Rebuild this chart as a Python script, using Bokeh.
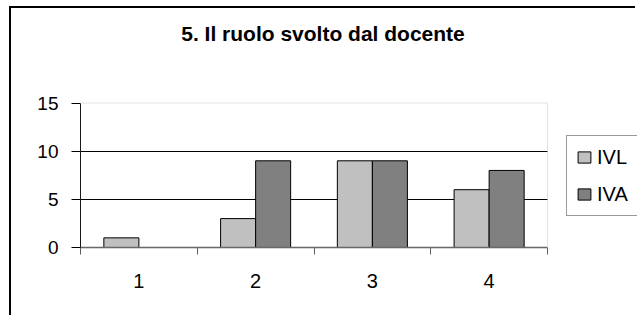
from bokeh.plotting import figure
from bokeh.models import (FixedTicker, Legend, LegendItem, ColumnDataSource, Range1d,
                          BoxAnnotation, LinearAxis, Label)
from bokeh.transform import dodge
from bokeh.embed import file_html
from bokeh.resources import INLINE

# ---- data ----
categories = ["1", "2", "3", "4"]
series_names = ["IVL", "IVA"]
ivl = [1, 3, 9, 6]
iva = [0, 9, 9, 8]
y_ticks = [0, 5, 10, 15]
title_text = "5. Il ruolo svolto dal docente"

FONT = "Liberation Sans"

n = len(categories)
centers = [i + 1 for i in range(n)]
bounds = [i + 0.5 for i in range(n + 1)]
x_lo, x_hi = 0.5, n + 0.5
y_lo, y_hi = y_ticks[0], y_ticks[-1]

# layout (pixels)
W, H = 626, 309
LEFT, BOTTOM = 69, 70
PLOT_W, PLOT_H = 467, 144.5       # size of the plotting area proper
FRAME_W = W - LEFT                # frame runs on to the right edge (legend zone)
FRAME_H = H - BOTTOM              # and up to the top edge (title zone)
x_view_hi = x_lo + n * FRAME_W / PLOT_W
y_view_hi = y_hi * FRAME_H / PLOT_H

p = figure(width=W, height=H, output_backend="svg", toolbar_location=None,
           x_range=Range1d(x_lo, x_view_hi), y_range=Range1d(y_lo, y_view_hi),
           x_axis_type=None,
           min_border_left=LEFT, min_border_right=0, min_border_top=0,
           min_border_bottom=BOTTOM,
           background_fill_color="#ffffff", border_fill_color="#ffffff",
           styles={"margin-left": "9px", "margin-top": "6px",
                   "border-left": "2px solid #000000", "border-top": "2px solid #000000"})
p.outline_line_color = None

src = ColumnDataSource(dict(x=centers, ivl=ivl, iva=iva))
r1 = p.vbar(x=dodge("x", -0.15), top="ivl", bottom=0, width=0.3, source=src,
            fill_color="#C0C0C0", line_color="#000000", line_width=1)
r2 = p.vbar(x=dodge("x", 0.15), top="iva", bottom=0, width=0.3, source=src,
            fill_color="#808080", line_color="#000000", line_width=1)

# x axis: labels at category centres, tick marks between categories
xaxis = LinearAxis(ticker=FixedTicker(ticks=centers, minor_ticks=bounds),
                   bounds=(x_lo, x_hi),
                   major_label_overrides={c: lab for c, lab in zip(centers, categories)},
                   major_tick_out=0, major_tick_in=0, minor_tick_out=7, minor_tick_in=0,
                   minor_tick_line_color="#606060", axis_line_color="#606060",
                   axis_line_width=1.5, major_label_standoff=19,
                   major_label_text_font=FONT, major_label_text_font_size="20px",
                   major_label_text_color="#000000")
p.add_layout(xaxis, "below")

# y axis
p.yaxis.bounds = (y_lo, y_hi)
p.yaxis.ticker = FixedTicker(ticks=y_ticks)
p.yaxis.major_tick_out = 9
p.yaxis.major_tick_in = 0
p.yaxis.minor_tick_out = 0
p.yaxis.minor_tick_in = 0
p.yaxis.axis_line_color = "#000000"
p.yaxis.major_tick_line_color = "#000000"
p.yaxis.major_label_standoff = 13
p.yaxis.major_label_text_font = FONT
p.yaxis.major_label_text_font_size = "19px"
p.yaxis.major_label_text_color = "#000000"

# black grid lines
p.ygrid.ticker = FixedTicker(ticks=y_ticks[1:-1])
p.ygrid.grid_line_color = "#000000"
p.ygrid.grid_line_width = 1

# blank out everything right of the plotting area (legend zone)
p.add_layout(BoxAnnotation(left=x_hi, fill_color="#ffffff", fill_alpha=1,
                           line_color=None, level="annotation"))
# light-grey border of the plotting area
p.add_layout(BoxAnnotation(left=x_lo, right=x_hi, bottom=y_lo, top=y_hi,
                           fill_alpha=0, line_color="#a0a0a0", line_width=1,
                           level="annotation"))

legend = Legend(items=[LegendItem(label=series_names[0], renderers=[r1]),
                       LegendItem(label=series_names[1], renderers=[r2])],
                location=(486, 31), border_line_color="#333333", border_line_width=1,
                background_fill_color="#ffffff", background_fill_alpha=1,
                glyph_width=16, glyph_height=14, label_text_font=FONT,
                label_text_font_size="20px", label_text_color="#000000",
                label_height=24, label_width=48, spacing=13, padding=9,
                label_standoff=5, margin=0, level="overlay")
p.add_layout(legend, "center")

# title, drawn inside the (extended) frame
title = Label(x=100.7, y=FRAME_H - 25, x_units="screen", y_units="screen",
              text=title_text, text_font=FONT, text_font_size="21px",
              text_font_style="bold", text_align="left", text_baseline="alphabetic",
              text_color="#000000", level="overlay")
p.add_layout(title)

open("out.html", "w").write(file_html(p, INLINE))
